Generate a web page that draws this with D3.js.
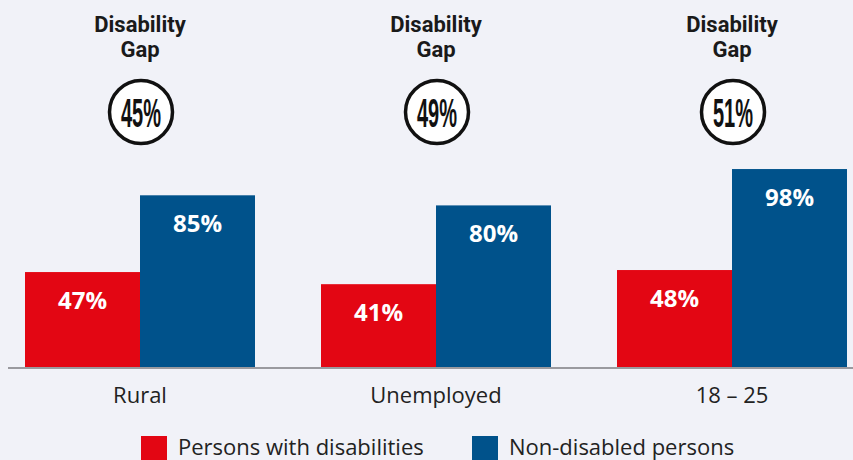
<!DOCTYPE html>
<html>
<head>
<meta charset="utf-8">
<script src="https://cdn.jsdelivr.net/npm/d3@7"></script>
<style>
  html, body { margin: 0; padding: 0; background: #f1f2f8; }
  svg { display: block; }
</style>
</head>
<body>
<svg id="chart" width="853" height="460"></svg>
<script>
// Groups along the x axis
const categories = ["Rural", "Unemployed", "18 \u2013 25"];
// Share (%) for each series, one value per group
const disabledValues = [47, 41, 48];
const nonDisabledValues = [85, 80, 98];
// Gap badge shown above each group
const gapLabels = ["45%", "49%", "51%"];
const seriesNames = ["Persons with disabilities", "Non-disabled persons"];
const seriesColors = ["#e30613", "#00528b"];

const svg = d3.select("#chart");
const W = 853, H = 460;
const baseY = 367;

const x = d3.scaleBand()
  .domain(categories)
  .range([-8, 880])
  .paddingInner(0.223)
  .paddingOuter(0.1115);

const xSub = d3.scaleBand()
  .domain([0, 1])
  .range([0, x.bandwidth()])
  .padding(0);

const y = d3.scaleLinear().domain([0, 100]).range([baseY, 165]);

const rows = categories.map((c, i) => ({
  cat: c,
  gap: gapLabels[i],
  values: [disabledValues[i], nonDisabledValues[i]]
}));

// bars
const groups = svg.append("g").selectAll("g")
  .data(rows)
  .join("g")
  .attr("transform", d => `translate(${x(d.cat)},0)`);

groups.selectAll("rect")
  .data(d => d.values.map((v, k) => ({ v, k })))
  .join("rect")
  .attr("x", d => xSub(d.k))
  .attr("y", d => y(d.v))
  .attr("width", xSub.bandwidth())
  .attr("height", d => baseY - y(d.v))
  .attr("fill", d => seriesColors[d.k]);

groups.selectAll("text.val")
  .data(d => d.values.map((v, k) => ({ v, k })))
  .join("text")
  .attr("class", "val")
  .attr("x", d => xSub(d.k) + xSub.bandwidth() / 2)
  .attr("y", d => y(d.v) + 37)
  .attr("text-anchor", "middle")
  .attr("fill", "#fff")
  .style("font-family", "'Open Sans', sans-serif")
  .style("font-weight", 700)
  .style("font-size", "24px")
  .text(d => d.v + "%");

// category axis under the bars
const xAxis = d3.axisBottom(x).tickSize(0).tickPadding(14);
const axisG = svg.append("g")
  .attr("transform", `translate(0,${baseY})`)
  .call(xAxis);
axisG.select(".domain").remove();
axisG.selectAll("text")
  .attr("dy", null)
  .attr("y", 36)
  .attr("fill", "#222")
  .style("font-family", "'Open Sans', sans-serif")
  .style("font-size", "22px");

svg.append("line")
  .attr("x1", 8).attr("x2", W)
  .attr("y1", baseY + 1).attr("y2", baseY + 1)
  .attr("stroke", "#9a9a9f")
  .attr("stroke-width", 2);

// gap headings and badges
const heads = svg.append("g").selectAll("g")
  .data(rows)
  .join("g")
  .attr("transform", d => `translate(${x(d.cat) + x.bandwidth() / 2},0)`);

heads.append("text")
  .attr("text-anchor", "middle")
  .attr("y", 32)
  .attr("fill", "#1a1a1a")
  .style("font-family", "Roboto, sans-serif")
  .style("font-weight", 700)
  .style("font-size", "22px")
  .text("Disability");

heads.append("text")
  .attr("text-anchor", "middle")
  .attr("y", 57)
  .attr("fill", "#1a1a1a")
  .style("font-family", "Roboto, sans-serif")
  .style("font-weight", 700)
  .style("font-size", "22px")
  .text("Gap");

heads.append("circle")
  .attr("cx", 1)
  .attr("cy", 112)
  .attr("r", 31.5)
  .attr("fill", "#fff")
  .attr("stroke", "#111")
  .attr("stroke-width", 3.5);

heads.append("text")
  .attr("x", 1)
  .attr("y", 127)
  .attr("text-anchor", "middle")
  .attr("fill", "#111")
  .attr("textLength", 40)
  .attr("lengthAdjust", "spacingAndGlyphs")
  .style("font-family", "'Liberation Sans Narrow', 'Liberation Sans', sans-serif")
  .style("font-weight", 700)
  .style("font-size", "40px")
  .text(d => d.gap);

// legend
const legendX = [141, 472];
const legend = svg.append("g").selectAll("g")
  .data(seriesNames)
  .join("g")
  .attr("transform", (d, i) => `translate(${legendX[i]},436)`);

legend.append("rect")
  .attr("width", 26)
  .attr("height", 26)
  .attr("fill", (d, i) => seriesColors[i]);

legend.append("text")
  .attr("x", 37)
  .attr("y", 19)
  .attr("fill", "#222")
  .style("font-family", "'Open Sans', sans-serif")
  .style("font-size", "22px")
  .text(d => d);
</script>
</body>
</html>
